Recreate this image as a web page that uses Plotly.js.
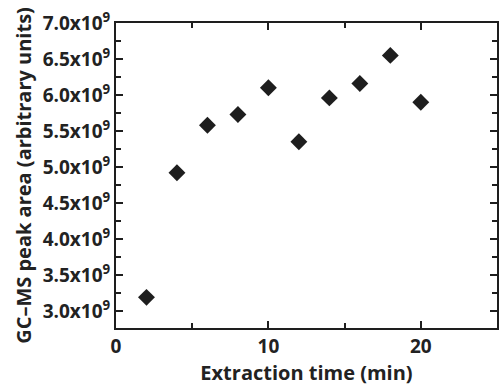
<!DOCTYPE html>
<html>
<head>
<meta charset="utf-8">
<script src="https://cdn.plot.ly/plotly-3.0.1.min.js"></script>
<style>html,body{margin:0;padding:0;background:#fff;}#chart{width:500px;height:388px;}</style>
</head>
<body>
<div id="chart"></div>
<script>
var extractionTime = [2, 4, 6, 8, 10, 12, 14, 16, 18, 20];
var peakArea = [3.19e9, 4.92e9, 5.58e9, 5.73e9, 6.10e9, 5.35e9, 5.96e9, 6.16e9, 6.55e9, 5.90e9];
var yTickVals = [3.0e9, 3.5e9, 4.0e9, 4.5e9, 5.0e9, 5.5e9, 6.0e9, 6.5e9, 7.0e9];
var yTickText = ["3.0x10<sup>9</sup>", "3.5x10<sup>9</sup>", "4.0x10<sup>9</sup>", "4.5x10<sup>9</sup>", "5.0x10<sup>9</sup>", "5.5x10<sup>9</sup>", "6.0x10<sup>9</sup>", "6.5x10<sup>9</sup>", "7.0x10<sup>9</sup>"];
var xTickVals = [0, 10, 20];
var xTickText = ["0", "10", "20"];

var fontFam = "Open Sans, DejaVu Sans, sans-serif";
var trace = {
  x: extractionTime,
  y: peakArea,
  type: 'scatter',
  mode: 'markers',
  marker: {symbol: 'diamond', size: 13, color: '#1e1e1e'},
  showlegend: false
};
var layout = {
  width: 500, height: 388,
  margin: {l: 116, r: 3, t: 23, b: 60},
  paper_bgcolor: '#fff', plot_bgcolor: '#fff',
  font: {family: fontFam, color: '#222', size: 19, weight: 'bold'},
  xaxis: {
    range: [0, 25], showgrid: false, zeroline: false,
    showline: true, linecolor: '#1e1e1e', linewidth: 2, mirror: 'allticks',
    ticks: 'inside', ticklen: 7, tickwidth: 2, tickcolor: '#1e1e1e',
    tickvals: xTickVals, ticktext: xTickText,
    minor: {dtick: 5, tick0: 0, ticks: 'inside', ticklen: 5, tickwidth: 2, tickcolor: '#1e1e1e', showgrid: false},
    tickfont: {size: 19, family: fontFam, weight: 'bold'},
    title: {text: 'Extraction time (min)', font: {size: 20, family: fontFam, weight: 'bold'}, standoff: 2}
  },
  yaxis: {
    range: [2.764e9, 7.0e9], showgrid: false, zeroline: false,
    showline: true, linecolor: '#1e1e1e', linewidth: 2, mirror: 'allticks',
    ticks: 'inside', ticklen: 7, tickwidth: 2, tickcolor: '#1e1e1e',
    tickvals: yTickVals, ticktext: yTickText,
    minor: {dtick: 0.25e9, tick0: 2.75e9, ticks: 'inside', ticklen: 5, tickwidth: 2, tickcolor: '#1e1e1e', showgrid: false},
    tickfont: {size: 19, family: fontFam, weight: 'bold'},
    title: {text: 'GC–MS peak area (arbitrary units)', font: {size: 20, family: fontFam, weight: 'bold'}, standoff: 6}
  }
};
Plotly.newPlot('chart', [trace], layout, {displayModeBar: false, staticPlot: true});
</script>
</body>
</html>
